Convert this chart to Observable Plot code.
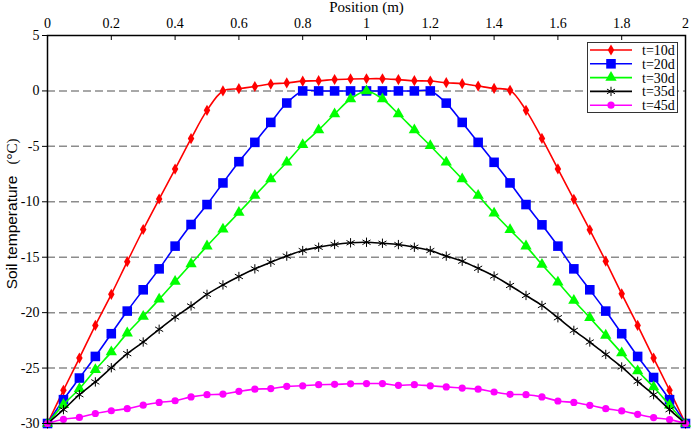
<!DOCTYPE html>
<html><head><meta charset="utf-8">
<script src="https://cdn.jsdelivr.net/npm/d3@7"></script>
<script src="https://cdn.jsdelivr.net/npm/@observablehq/plot@0.6"></script>
<style>
html,body{margin:0;padding:0;background:#fff;}
#chart{position:relative;width:692px;height:429px;}
#chart svg text{font-family:"Liberation Serif","Times New Roman",Times,"DejaVu Serif",serif;}
#chart svg text.sans{font-family:"Liberation Sans",Arial,"DejaVu Sans",sans-serif;}
#legend{position:absolute;left:587px;top:42px;}
</style></head><body><div id="chart"></div>
<script>
const positions = [0,0.05,0.1,0.15,0.2,0.25,0.3,0.35,0.4,0.45,0.5,0.55,0.6,0.65,0.7,0.75,0.8,0.85,0.9,0.95,1,1.05,1.1,1.15,1.2,1.25,1.3,1.35,1.4,1.45,1.5,1.55,1.6,1.65,1.7,1.75,1.8,1.85,1.9,1.95,2];
const t10 = [-30,-27,-24.1,-21.15,-18.35,-15.4,-12.5,-9.75,-7.05,-4.3,-1.75,0,0.2,0.4,0.62,0.72,0.88,0.92,1.03,1.08,1.1,
             1.1,1.02,0.92,0.89,0.74,0.65,0.44,0.23,0.05,-1.75,-4.28,-7.04,-9.78,-12.53,-15.36,-18.3,-21.15,-24.1,-27,-30];
const t20 = [-30,-27.85,-25.9,-23.95,-21.9,-19.86,-17.94,-16.05,-14,-12.05,-10.25,-8.3,-6.38,-4.64,-2.84,-1.09,0,0,0,0,0,
             0,0,0,0,-1.1,-2.84,-4.64,-6.44,-8.3,-10.25,-12.08,-14,-16.05,-17.94,-19.86,-21.9,-23.95,-25.85,-27.85,-30];
const t30 = [-30,-28.3,-26.86,-25.15,-23.56,-21.85,-20.34,-18.8,-17.2,-15.6,-14,-12.47,-10.97,-9.44,-7.94,-6.44,-4.85,-3.52,-2.08,-0.73,0,
             -0.73,-2.08,-3.52,-4.94,-6.44,-7.94,-9.44,-11.03,-12.53,-14,-15.66,-17.25,-18.9,-20.46,-22.05,-23.65,-25.27,-26.71,-28.36,-30];
const t35 = [-30,-28.75,-27.4,-26.25,-24.97,-23.7,-22.65,-21.5,-20.4,-19.4,-18.35,-17.5,-16.74,-16.05,-15.45,-14.9,-14.4,-14.1,-13.85,-13.7,-13.65,
             -13.74,-13.86,-14.1,-14.4,-14.9,-15.36,-16,-16.7,-17.55,-18.45,-19.35,-20.46,-21.6,-22.65,-23.77,-24.9,-26.2,-27.4,-28.75,-30];
const t45 = [-30,-29.62,-29.45,-29.1,-28.85,-28.66,-28.35,-28.1,-27.95,-27.6,-27.4,-27.35,-27.1,-26.9,-26.85,-26.65,-26.6,-26.5,-26.47,-26.42,-26.4,
             -26.4,-26.56,-26.5,-26.6,-26.7,-26.8,-26.9,-27.16,-27.37,-27.4,-27.6,-27.97,-28.1,-28.36,-28.66,-28.87,-29.17,-29.47,-29.65,-30];

const seriesNames = ["t=10d","t=20d","t=30d","t=35d","t=45d"];
const seriesColors = ["#ff0000","#0000ff","#00ff00","#000000","#ff00ff"];
const seriesSymbols = ["diamond","square","triangle","asterisk","circle"];
const seriesRadius = [3.4,5.4,4.2,4.4,3.6];
const xTicks = [0,0.2,0.4,0.6,0.8,1,1.2,1.4,1.6,1.8,2];
const yTicks = [5,0,-5,-10,-15,-20,-25,-30];
const gridLevels = [0,-5,-10,-15,-20,-25];
const xLabel = "Position (m)";
const yLabelMain = "Soil temperature";
const yLabelUnit = "(°C)";

const allSeries = [t10,t20,t30,t35,t45];
const tables = allSeries.map((vals, s) => vals.map((v, i) => ({series: seriesNames[s], x: positions[i], y: v})));

const seriesMarks = [];
tables.forEach((tbl, s) => {
  seriesMarks.push(Plot.line(tbl, {x: "x", y: "y", stroke: seriesColors[s], strokeWidth: 1.6, curve: "catmull-rom"}));
  const line = seriesSymbols[s] === "asterisk";
  seriesMarks.push(Plot.dot(tbl, {x: "x", y: "y", symbol: () => seriesSymbols[s], r: seriesRadius[s],
    fill: line ? "none" : seriesColors[s], stroke: line ? seriesColors[s] : "none", strokeWidth: line ? 1 : 0}));
});

const chart = Plot.plot({
  width: 692, height: 429,
  marginLeft: 47, marginRight: 7, marginTop: 35, marginBottom: 6,
  style: {fontSize: "14px", background: "white"},
  x: {domain: [0, 2]},
  y: {domain: [-30, 5]},
  marks: [
    Plot.ruleY(gridLevels, {stroke: "#8c8c8c", strokeWidth: 1.5, strokeDasharray: "8,4"}),
    ...seriesMarks,
    Plot.frame({stroke: "#000", strokeWidth: 1.5}),
    Plot.axisX(xTicks, {anchor: "top", tickSize: -4, tickPadding: 12, tickFormat: d => String(d), label: null, fontSize: 14, stroke: "#000"}),
    Plot.axisY(yTicks, {anchor: "left", tickSize: 5, tickPadding: 3, tickFormat: d => String(d), label: null, fontSize: 14, stroke: "#000"}),
    Plot.text([xLabel], {frameAnchor: "top", lineAnchor: "middle", dy: -28, text: d => d, fontSize: 15, fill: "#000"}),
    Plot.text([yLabelMain], {frameAnchor: "left", textAnchor: "middle", lineAnchor: "middle", dx: -35, dy: 3, rotate: -90, text: d => d, fontSize: 15.5, fill: "#000"}),
    Plot.text([yLabelUnit], {frameAnchor: "left", textAnchor: "middle", lineAnchor: "middle", dx: -35, dy: -78, rotate: -90, text: d => d, fontSize: 15, fill: "#000"})
  ]
});
// the main y label is sans-serif in the reference
d3.select(chart).selectAll("text").filter(function(){ return this.textContent === yLabelMain; }).classed("sans", true);
const host = document.getElementById("chart");
host.appendChild(chart);

// legend overlay
const symbolTypes = {diamond: d3.symbolDiamond, square: d3.symbolSquare, triangle: d3.symbolTriangle, asterisk: d3.symbolAsterisk, circle: d3.symbolCircle};
const lw = 91, lh = 71;
const leg = d3.create("svg").attr("id", "legend").attr("width", lw).attr("height", lh).style("font-size", "14px");
leg.append("rect").attr("x", 0.5).attr("y", 0.5).attr("width", lw - 1).attr("height", lh - 1).attr("fill", "white").attr("stroke", "#333").attr("stroke-width", 1);
seriesNames.forEach((name, s) => {
  const yy = 8 + s * 13.8;
  const g = leg.append("g").attr("transform", `translate(0,${yy})`);
  g.append("line").attr("x1", 3).attr("x2", 45).attr("y1", 0).attr("y2", 0).attr("stroke", seriesColors[s]).attr("stroke-width", 1.6);
  const isLine = seriesSymbols[s] === "asterisk";
  g.append("path").attr("transform", "translate(24,0)")
    .attr("d", d3.symbol(symbolTypes[seriesSymbols[s]], Math.PI * seriesRadius[s] ** 2)())
    .attr("fill", isLine ? "none" : seriesColors[s]).attr("stroke", isLine ? seriesColors[s] : "none").attr("stroke-width", 1);
  g.append("text").attr("x", 55).attr("y", 0).attr("dy", "0.35em").attr("fill", "#000").text(name);
});
host.appendChild(leg.node());
</script></body></html>
